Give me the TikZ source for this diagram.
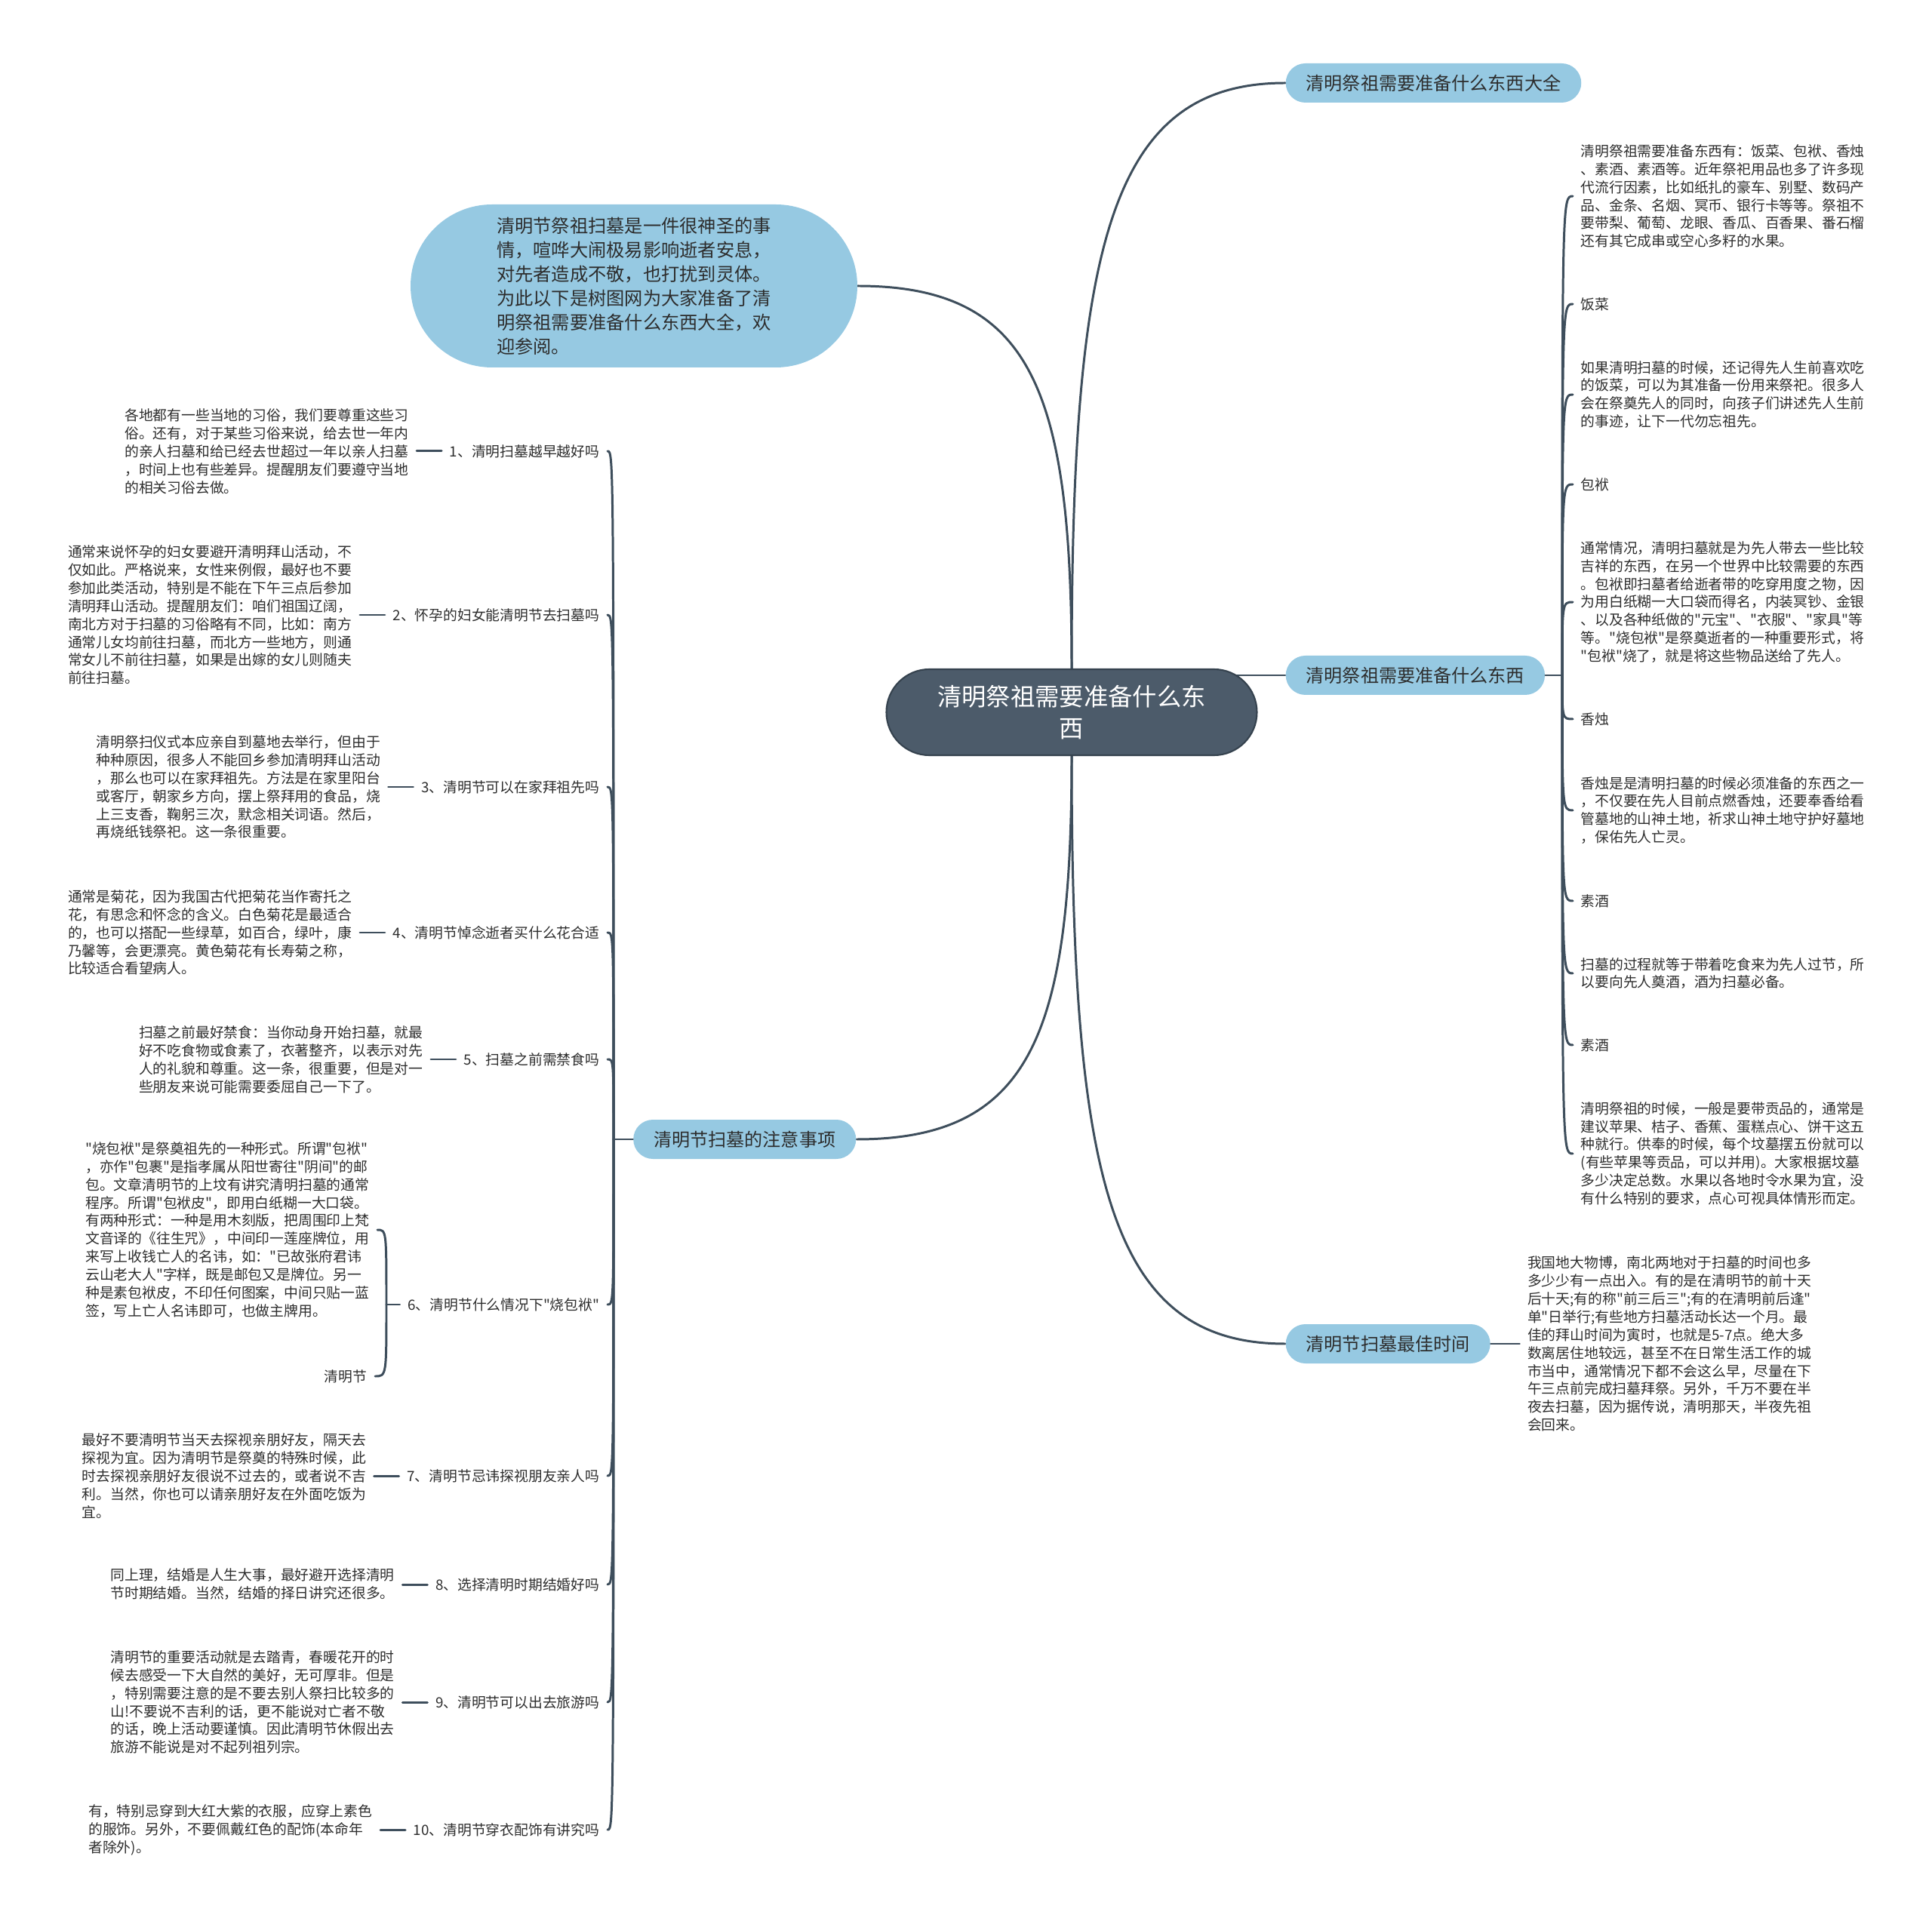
\documentclass[tikz,border=0pt]{standalone}
\usepackage{fontspec}
\setmainfont{Noto Sans CJK SC}[Ligatures=TeXOff]
\usetikzlibrary{positioning,backgrounds}
\definecolor{smapSlate}{RGB}{76,91,106}
\definecolor{smapSky}{RGB}{150,201,226}
\definecolor{smapInk}{RGB}{45,45,45}
\definecolor{smapLine}{RGB}{62,78,92}
\tikzset{
  sroot/.style={rounded corners=.57cm, fill=smapSlate, draw=smapLine!85!black,
    line width=.6pt, text=white,
    font=\fontsize{9.2}{12.2}\selectfont, align=center,
    minimum width=4.91cm, minimum height=1.14cm, inner sep=0pt},
  sbranch/.style={rounded corners=.26cm, fill=smapSky, text=smapInk,
    font=\fontsize{6.86}{8}\selectfont, minimum height=.52cm,
    inner xsep=.27cm, inner ysep=0pt},
  sintro/.style={rounded corners=1.08cm, fill=smapSky, text=smapInk,
    font=\fontsize{6.9}{9.1}\selectfont, align=left,
    minimum width=5.92cm, minimum height=2.16cm, inner sep=0pt},
  snote/.style={font=\fontsize{5.35}{6.8}\selectfont, text=smapInk,
    align=left, inner xsep=.1cm, inner ysep=.02cm},
  sitem/.style={font=\fontsize{5.35}{6.8}\selectfont, text=smapInk,
    inner xsep=.1cm, inner ysep=.02cm},
  slink/.style={draw=smapLine, line width=.85pt, line cap=round,
    line join=round}
}
\begin{document}
\begin{tikzpicture}
\path[use as bounding box] (0,0) rectangle (25.60,-25.50);

% centre and main branches
\node[sroot] (root) at (14.20,-9.44) {清明祭祖需要准备什么东\\西};
\node[sbranch, anchor=west] (b1) at (17.03,-1.10) {清明祭祖需要准备什么东西大全};
\node[sbranch, anchor=west] (b2) at (17.03,-8.95) {清明祭祖需要准备什么东西};
\node[sbranch, anchor=west] (b3) at (17.03,-17.81) {清明节扫墓最佳时间};
\node[sintro] (intro) at (8.40,-3.79) {清明节祭祖扫墓是一件很神圣的事\\情，喧哗大闹极易影响逝者安息，\\对先者造成不敬，也打扰到灵体。\\为此以下是树图网为大家准备了清\\明祭祖需要准备什么东西大全，欢\\迎参阅。};
\node[sbranch, anchor=east] (care) at (11.35,-15.10) {清明节扫墓的注意事项};

% right column
\node[snote, anchor=west] (r1) at (20.84,-2.60) {清明祭祖需要准备东西有：饭菜、包袱、香烛\\、素酒、素酒等。近年祭祀用品也多了许多现\\代流行因素，比如纸扎的豪车、别墅、数码产\\品、金条、名烟、冥币、银行卡等等。祭祖不\\要带梨、葡萄、龙眼、香瓜、百香果、番石榴\\还有其它成串或空心多籽的水果。};
\node[snote, anchor=west] (r2) at (20.84,-4.03) {饭菜};
\node[snote, anchor=west] (r3) at (20.84,-5.23) {如果清明扫墓的时候，还记得先人生前喜欢吃\\的饭菜，可以为其准备一份用来祭祀。很多人\\会在祭奠先人的同时，向孩子们讲述先人生前\\的事迹，让下一代勿忘祖先。};
\node[snote, anchor=west] (r4) at (20.84,-6.42) {包袱};
\node[snote, anchor=west] (r5) at (20.84,-7.98) {通常情况，清明扫墓就是为先人带去一些比较\\吉祥的东西，在另一个世界中比较需要的东西\\。包袱即扫墓者给逝者带的吃穿用度之物，因\\为用白纸糊一大口袋而得名，内装冥钞、金银\\、以及各种纸做的"元宝"、"衣服"、"家具"等\\等。"烧包袱"是祭奠逝者的一种重要形式，将\\"包袱"烧了，就是将这些物品送给了先人。};
\node[snote, anchor=west] (r6) at (20.84,-9.53) {香烛};
\node[snote, anchor=west] (r7) at (20.84,-10.74) {香烛是是清明扫墓的时候必须准备的东西之一\\，不仅要在先人目前点燃香烛，还要奉香给看\\管墓地的山神土地，祈求山神土地守护好墓地\\，保佑先人亡灵。};
\node[snote, anchor=west] (r8) at (20.84,-11.94) {素酒};
\node[snote, anchor=west] (r9) at (20.84,-12.90) {扫墓的过程就等于带着吃食来为先人过节，所\\以要向先人奠酒，酒为扫墓必备。};
\node[snote, anchor=west] (r10) at (20.84,-13.85) {素酒};
\node[snote, anchor=west] (r11) at (20.84,-15.29) {清明祭祖的时候，一般是要带贡品的，通常是\\建议苹果、桔子、香蕉、蛋糕点心、饼干这五\\种就行。供奉的时候，每个坟墓摆五份就可以\\(有些苹果等贡品，可以并用)。大家根据坟墓\\多少决定总数。水果以各地时令水果为宜，没\\有什么特别的要求，点心可视具体情形而定。};
\node[snote, right=3.8mm of b3] (best) {我国地大物博，南北两地对于扫墓的时间也多\\多少少有一点出入。有的是在清明节的前十天\\后十天;有的称"前三后三";有的在清明前后逢"\\单"日举行;有些地方扫墓活动长达一个月。最\\佳的拜山时间为寅时，也就是5-7点。绝大多\\数离居住地较远，甚至不在日常生活工作的城\\市当中，通常情况下都不会这么早，尽量在下\\午三点前完成扫墓拜祭。另外，千万不要在半\\夜去扫墓，因为据传说，清明那天，半夜先祖\\会回来。};

% left column: questions
\node[sitem, anchor=east] (i1) at (8.05,-5.98) {1、清明扫墓越早越好吗};
\node[sitem, anchor=east] (i2) at (8.05,-8.15) {2、怀孕的妇女能清明节去扫墓吗};
\node[sitem, anchor=east] (i3) at (8.05,-10.43) {3、清明节可以在家拜祖先吗};
\node[sitem, anchor=east] (i4) at (8.05,-12.36) {4、清明节悼念逝者买什么花合适};
\node[sitem, anchor=east] (i5) at (8.05,-14.04) {5、扫墓之前需禁食吗};
\node[sitem, anchor=east] (i6) at (8.05,-17.29) {6、清明节什么情况下"烧包袱"};
\node[sitem, anchor=east] (i7) at (8.05,-19.56) {7、清明节忌讳探视朋友亲人吗};
\node[sitem, anchor=east] (i8) at (8.05,-21.00) {8、选择清明时期结婚好吗};
\node[sitem, anchor=east] (i9) at (8.05,-22.56) {9、清明节可以出去旅游吗};
\node[sitem, anchor=east] (i10) at (8.05,-24.25) {10、清明节穿衣配饰有讲究吗};

% left column: answers
\node[snote, left=3.3mm of i1] (t1) {各地都有一些当地的习俗，我们要尊重这些习\\俗。还有，对于某些习俗来说，给去世一年内\\的亲人扫墓和给已经去世超过一年以亲人扫墓\\，时间上也有些差异。提醒朋友们要遵守当地\\的相关习俗去做。};
\node[snote, left=3.3mm of i2] (t2) {通常来说怀孕的妇女要避开清明拜山活动，不\\仅如此。严格说来，女性来例假，最好也不要\\参加此类活动，特别是不能在下午三点后参加\\清明拜山活动。提醒朋友们：咱们祖国辽阔，\\南北方对于扫墓的习俗略有不同，比如：南方\\通常儿女均前往扫墓，而北方一些地方，则通\\常女儿不前往扫墓，如果是出嫁的女儿则随夫\\前往扫墓。};
\node[snote, left=3.3mm of i3] (t3) {清明祭扫仪式本应亲自到墓地去举行，但由于\\种种原因，很多人不能回乡参加清明拜山活动\\，那么也可以在家拜祖先。方法是在家里阳台\\或客厅，朝家乡方向，摆上祭拜用的食品，烧\\上三支香，鞠躬三次，默念相关词语。然后，\\再烧纸钱祭祀。这一条很重要。};
\node[snote, left=3.3mm of i4] (t4) {通常是菊花，因为我国古代把菊花当作寄托之\\花，有思念和怀念的含义。白色菊花是最适合\\的，也可以搭配一些绿草，如百合，绿叶，康\\乃馨等，会更漂亮。黄色菊花有长寿菊之称，\\比较适合看望病人。};
\node[snote, left=3.3mm of i5] (t5) {扫墓之前最好禁食：当你动身开始扫墓，就最\\好不吃食物或食素了，衣著整齐，以表示对先\\人的礼貌和尊重。这一条，很重要，但是对一\\些朋友来说可能需要委屈自己一下了。};
\node[snote, anchor=east] (t6) at (5.00,-16.30) {"烧包袱"是祭奠祖先的一种形式。所谓"包袱"\\，亦作"包裹"是指孝属从阳世寄往"阴间"的邮\\包。文章清明节的上坟有讲究清明扫墓的通常\\程序。所谓"包袱皮"，即用白纸糊一大口袋。\\有两种形式：一种是用木刻版，把周围印上梵\\文音译的《往生咒》，中间印一莲座牌位，用\\来写上收钱亡人的名讳，如："已故张府君讳\\云山老大人"字样，既是邮包又是牌位。另一\\种是素包袱皮，不印任何图案，中间只贴一蓝\\签，写上亡人名讳即可，也做主牌用。};
\node[sitem, anchor=east] (t6b) at (4.97,-18.24) {清明节};
\node[snote, left=3.3mm of i7] (t7) {最好不要清明节当天去探视亲朋好友，隔天去\\探视为宜。因为清明节是祭奠的特殊时候，此\\时去探视亲朋好友很说不过去的，或者说不吉\\利。当然，你也可以请亲朋好友在外面吃饭为\\宜。};
\node[snote, left=3.3mm of i8] (t8) {同上理，结婚是人生大事，最好避开选择清明\\节时期结婚。当然，结婚的择日讲究还很多。};
\node[snote, left=3.3mm of i9] (t9) {清明节的重要活动就是去踏青，春暖花开的时\\候去感受一下大自然的美好，无可厚非。但是\\，特别需要注意的是不要去别人祭扫比较多的\\山!不要说不吉利的话，更不能说对亡者不敬\\的话，晚上活动要谨慎。因此清明节休假出去\\旅游不能说是对不起列祖列宗。};
\node[snote, left=3.3mm of i10] (t10) {有，特别忌穿到大红大紫的衣服，应穿上素色\\的服饰。另外，不要佩戴红色的配饰(本命年\\者除外)。};

\coordinate (rhub) at (20.70,-8.95);
\coordinate (lhub) at (8.13,-15.10);
\coordinate (k6) at (5.12,-17.29);

\begin{scope}[on background layer]
  \draw[slink] (root.north) .. controls +(0,5.60) and +(-2.33,0) .. (b1.west);
  \draw[slink] (root.center |- b2.west) -- (b2.west);
  \draw[slink] (root.north) .. controls +(0,3.66) and +(2.32,0) .. (intro.east);
  \draw[slink] (root.south) .. controls +(0,-3.66) and +(2.33,0) .. (care.east);
  \draw[slink] (root.south) .. controls +(0,-5.62) and +(-2.33,0) .. (b3.west);
\end{scope}

\draw[slink] (b2.east) -- (rhub);
\draw[slink] (rhub) .. controls (rhub |- r1.west) .. (r1.west);
\draw[slink] (rhub) .. controls (rhub |- r2.west) .. (r2.west);
\draw[slink] (rhub) .. controls (rhub |- r3.west) .. (r3.west);
\draw[slink] (rhub) .. controls (rhub |- r4.west) .. (r4.west);
\draw[slink] (rhub) .. controls (rhub |- r5.west) .. (r5.west);
\draw[slink] (rhub) .. controls (rhub |- r6.west) .. (r6.west);
\draw[slink] (rhub) .. controls (rhub |- r7.west) .. (r7.west);
\draw[slink] (rhub) .. controls (rhub |- r8.west) .. (r8.west);
\draw[slink] (rhub) .. controls (rhub |- r9.west) .. (r9.west);
\draw[slink] (rhub) .. controls (rhub |- r10.west) .. (r10.west);
\draw[slink] (rhub) .. controls (rhub |- r11.west) .. (r11.west);
\draw[slink] (b3.east) -- (best.west);

\draw[slink] (care.west) -- (lhub);
\draw[slink] (lhub) .. controls (lhub |- i1.east) .. (i1.east);
\draw[slink] (lhub) .. controls (lhub |- i2.east) .. (i2.east);
\draw[slink] (lhub) .. controls (lhub |- i3.east) .. (i3.east);
\draw[slink] (lhub) .. controls (lhub |- i4.east) .. (i4.east);
\draw[slink] (lhub) .. controls (lhub |- i5.east) .. (i5.east);
\draw[slink] (lhub) .. controls (lhub |- i6.east) .. (i6.east);
\draw[slink] (lhub) .. controls (lhub |- i7.east) .. (i7.east);
\draw[slink] (lhub) .. controls (lhub |- i8.east) .. (i8.east);
\draw[slink] (lhub) .. controls (lhub |- i9.east) .. (i9.east);
\draw[slink] (lhub) .. controls (lhub |- i10.east) .. (i10.east);

\draw[slink] (t1.east) -- (i1.west);
\draw[slink] (t2.east) -- (i2.west);
\draw[slink] (t3.east) -- (i3.west);
\draw[slink] (t4.east) -- (i4.west);
\draw[slink] (t5.east) -- (i5.west);
\draw[slink] (i6.west) -- (k6);
\draw[slink] (k6) .. controls (k6 |- t6.east) .. (t6.east);
\draw[slink] (k6) .. controls (k6 |- t6b.east) .. (t6b.east);
\draw[slink] (t7.east) -- (i7.west);
\draw[slink] (t8.east) -- (i8.west);
\draw[slink] (t9.east) -- (i9.west);
\draw[slink] (t10.east) -- (i10.west);
\end{tikzpicture}
\end{document}
